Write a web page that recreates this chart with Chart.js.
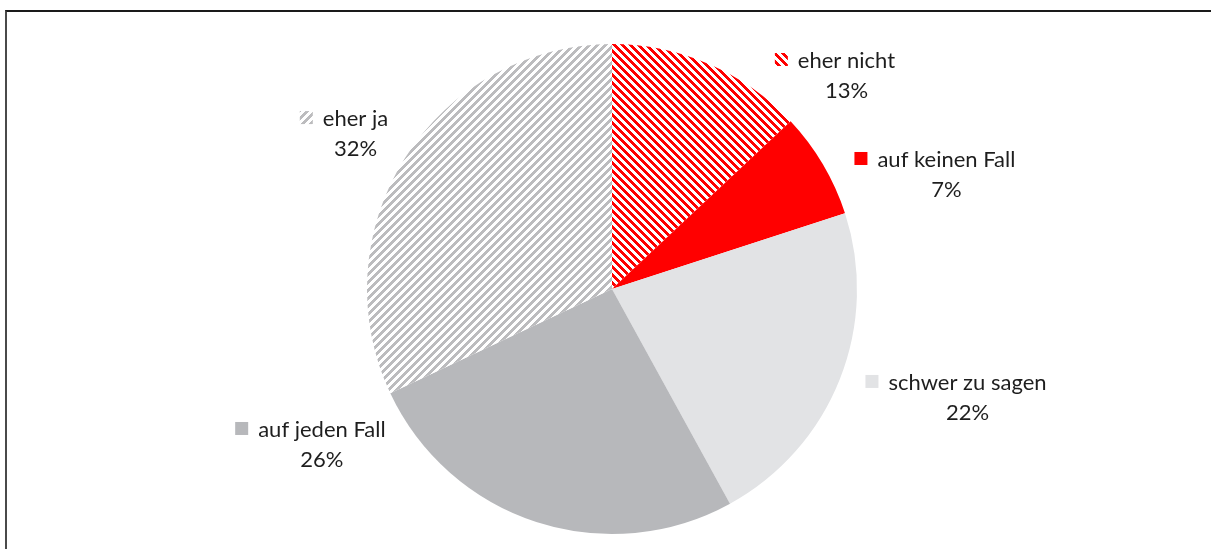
<!DOCTYPE html>
<html>
<head>
<meta charset="utf-8">
<script src="https://cdn.jsdelivr.net/npm/chart.js@4.4.1/dist/chart.umd.min.js"></script>
<style>
  html, body { margin: 0; padding: 0; background: #ffffff; }
  #wrap { position: relative; width: 1211px; height: 549px; overflow: hidden; background: #fff; }
  #frame { position: absolute; left: 5px; top: 10px; width: 1220px; height: 600px;
           border-top: 2px solid #1a1a1a; border-left: 2px solid #4a4a4a; box-sizing: border-box; }
  canvas { position: absolute; left: 0; top: 0; }
</style>
</head>
<body>
<div id="wrap">
  <div id="frame"></div>
  <canvas id="c" width="1211" height="549"></canvas>
</div>
<script>
// ---- data ----
const categories = ['eher nicht', 'auf keinen Fall', 'schwer zu sagen', 'auf jeden Fall', 'eher ja'];
const values = [13, 7, 22, 26, 32];
const percentLabels = ['13%', '7%', '22%', '26%', '32%'];

// ---- styles ----
function stripePattern(color, dir) {
  const s = 8;
  const c = document.createElement('canvas');
  c.width = s; c.height = s;
  const ctx = c.getContext('2d');
  ctx.fillStyle = '#ffffff';
  ctx.fillRect(0, 0, s, s);
  ctx.fillStyle = color;
  for (let y = 0; y < s; y++) {
    for (let x = 0; x < s; x++) {
      const k = dir === 'back' ? ((x - y) % s + s) % s : ((x + y) % s);
      if (k < 4) ctx.fillRect(x, y, 1, 1);
    }
  }
  return ctx.createPattern(c, 'repeat');
}
const redStripes = stripePattern('#ff0000', 'back');
const grayStripes = stripePattern('#bcbcbe', 'fwd');
const sliceColors = [redStripes, '#ff0000', '#e2e3e5', '#b7b8bb', grayStripes];

// label anchor positions, in units of the pie radius from its centre (text centre x, first baseline)
const labelOffsets = [[0.957, -0.902], [1.365, -0.498], [1.451, 0.412], [-1.184, 0.604], [-1.047, -0.665]];

const labelPlugin = {
  id: 'sliceLabels',
  afterDraw(chart) {
    const ctx = chart.ctx;
    const meta = chart.getDatasetMeta(0);
    ctx.save();
    ctx.font = '22px Lato';
    ctx.fillStyle = '#1e1e1e';
    ctx.textBaseline = 'alphabetic';
    meta.data.forEach((arc, i) => {
      const p = arc.getProps(['x', 'y', 'outerRadius'], true);
      const r = p.outerRadius;
      const ax = p.x + labelOffsets[i][0] * r;
      const ay = p.y + labelOffsets[i][1] * r;
      const name = categories[i];
      const w = ctx.measureText(name).width;
      ctx.textAlign = 'center';
      ctx.fillText(name, ax, ay);
      ctx.fillText(percentLabels[i], ax, ay + 30);
      // legend key
      const kx = ax - w / 2 - 10 - 13;
      const ky = ay - 15;
      ctx.fillStyle = sliceColors[i];
      ctx.fillRect(kx, ky, 13, 13);
      ctx.fillStyle = '#1e1e1e';
    });
    ctx.restore();
  }
};

new Chart(document.getElementById('c'), {
  type: 'pie',
  data: {
    labels: categories,
    datasets: [{
      data: values,
      backgroundColor: sliceColors,
      borderWidth: 0
    }]
  },
  options: {
    responsive: false,
    animation: false,
    layout: { padding: { left: 13, right: 0, top: 44, bottom: 15 } },
    plugins: { legend: { display: false }, tooltip: { enabled: false }, title: { display: false } }
  },
  plugins: [labelPlugin]
});
</script>
</body>
</html>
